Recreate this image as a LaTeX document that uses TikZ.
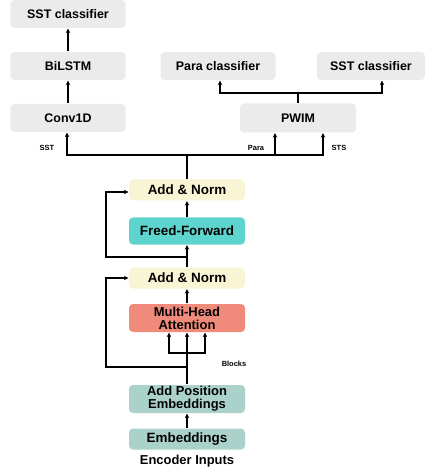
\documentclass[tikz,border=0pt]{standalone}
\usepackage{fontspec}
\setmainfont{Liberation Sans}
\usetikzlibrary{arrows.meta}
\definecolor{boxgrey}{HTML}{EBEBEB}
\definecolor{normyellow}{HTML}{F8F4D4}
\definecolor{ffteal}{HTML}{5ED4CE}
\definecolor{attnred}{HTML}{F08A7A}
\definecolor{embgreen}{HTML}{AAD2CB}
\begin{document}
\begin{tikzpicture}[x=1bp, y=-1bp, line width=1.2bp, >={Stealth[length=4.5bp,width=4.5bp]},
    block/.style={rectangle, rounded corners=4bp, minimum width=115bp, minimum height=28bp, inner sep=1bp,
        font=\fontsize{12.5}{12.5}\selectfont\bfseries, align=center},
    tag/.style={font=\fontsize{7.5}{8}\selectfont\bfseries, inner sep=0pt}]
    \useasboundingbox (0,0) rectangle (426,469);

    % Task heads
    \node[block, fill=boxgrey] (sst1) at (68,14) {SST classifier};
    \node[block, fill=boxgrey] (lstm) at (68,66) {BiLSTM};
    \node[block, fill=boxgrey] (conv) at (68,118) {Conv1D};
    \node[block, fill=boxgrey] (para) at (218,66) {Para classifier};
    \node[block, fill=boxgrey, minimum width=108bp] (sst2) at (371,66) {SST classifier};
    \node[block, fill=boxgrey, minimum width=116bp, minimum height=29bp] (pwim) at (298,118) {PWIM};

    % Arrows
    \draw[->] (conv) -- (lstm);
    \draw[->] (lstm) -- (sst1);
    \coordinate (split) at (298,93);
    \draw (pwim.north) -- (split);
    \draw[->] (split) -| ([xshift=2bp]para.south);
    \draw[->] (split) -| ([xshift=11bp]sst2.south);

    % Encoder
    \node[block, fill=normyellow, minimum width=116bp, minimum height=21bp, font=\fontsize{13.5}{13}\selectfont\bfseries] (an1) at (187,190) {Add \& Norm};
    \node[block, fill=ffteal, minimum width=116bp, minimum height=27bp, font=\fontsize{13.5}{13}\selectfont\bfseries] (ff) at (187,231) {Freed-Forward};
    \node[block, fill=normyellow, minimum width=116bp, minimum height=21bp, font=\fontsize{13.5}{13}\selectfont\bfseries] (an2) at (187,278) {Add \& Norm};
    \node[block, fill=attnred, minimum width=116bp, font=\fontsize{13}{13}\selectfont\bfseries] (mha) at (187,318) {Multi-Head\\Attention};
    \node[block, fill=embgreen, minimum width=116bp, font=\fontsize{13}{13}\selectfont\bfseries] (apos) at (187,399) {Add Position\\Embeddings};
    \node[block, fill=embgreen, minimum width=116bp, minimum height=21bp, font=\fontsize{13.5}{13}\selectfont\bfseries] (emb) at (187,439) {Embeddings};
    \node[font=\fontsize{13}{13}\selectfont\bfseries, inner sep=0pt] (inp) at (187,461) {Encoder Inputs};

    % Arrows
    \draw[->] (emb) -- (apos);
    \coordinate (fork) at (187,353);
    \draw (apos.north) -- (fork);
    \draw[->] (fork) -- (mha.south);
    \draw[->] (fork) -| ([xshift=-18bp]mha.south);
    \draw[->] (fork) -| ([xshift=18bp]mha.south);
    \coordinate (res2) at (187,367);
    \coordinate (loop2) at (106,367);
    \draw[->] (res2) -- (loop2) |- (an2.west);
    \draw[->] (mha) -- (an2);
    \draw[->] (an2) -- (ff);
    \coordinate (res1) at (187,257);
    \coordinate (loop1) at (106,257);
    \draw[->] (res1) -- (loop1) |- ([yshift=-2bp]an1.west);
    \draw[->] (ff) -- (an1);

    % Output bus
    \coordinate (bus) at (187,155);
    \draw (an1.north) -- (bus);
    \draw[->] (bus) -| ([xshift=-1bp]conv.south);
    \draw[->] (bus) -| ([xshift=-23bp]pwim.south);
    \draw[->] (bus) -| ([xshift=25bp]pwim.south);

    % Labels
    \node[tag] (lsst) at (47,148) {SST};
    \node[tag] (lpara) at (256,148) {Para};
    \node[tag] (lsts) at (339,148) {STS};
    \node[tag] (lblk) at (234,364) {Blocks};
\end{tikzpicture}
\end{document}
